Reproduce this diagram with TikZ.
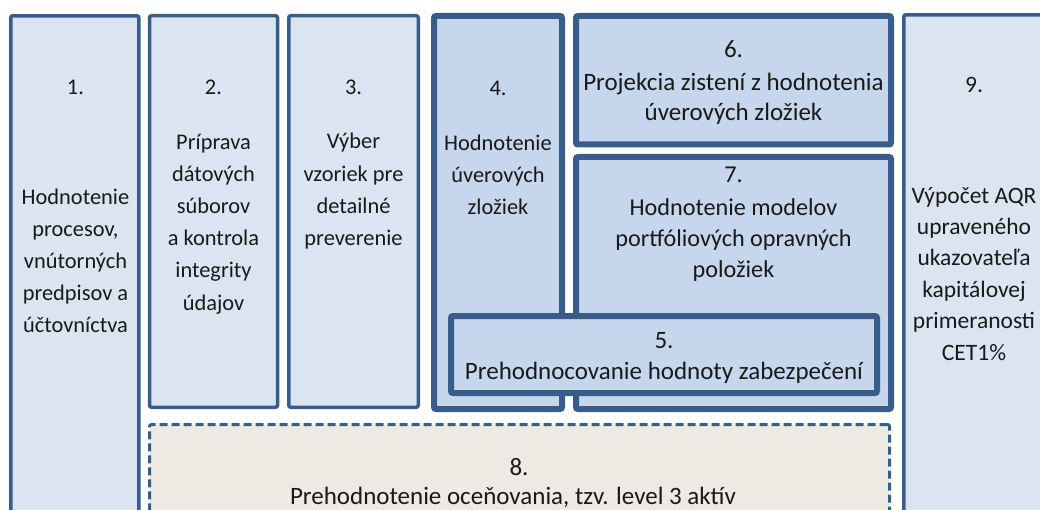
\documentclass[tikz,border=0pt]{standalone}
\usepackage{fontspec}
\setmainfont{Carlito}
\definecolor{bordc}{RGB}{56,93,138}
\definecolor{lightf}{RGB}{219,229,241}
\definecolor{midf}{RGB}{198,214,236}
\definecolor{beigef}{RGB}{237,234,227}
\definecolor{textc}{RGB}{25,25,25}
\tikzset{
  boxbase/.style={rectangle, rounded corners=2pt, inner sep=0pt, outer sep=0pt, draw=bordc},
  lightbox/.style={boxbase, fill=lightf, line width=3.5pt},
  thickbox/.style={boxbase, fill=midf, line width=6pt},
  dashbox/.style={boxbase, fill=beigef, line width=3pt, dash pattern=on 8pt off 4pt},
  txt/.style={text=textc, inner sep=0pt, align=center, anchor=base},
  fa/.style={txt, font=\fontsize{22.4}{32.2}\selectfont},
  fb/.style={txt, font=\fontsize{25}{31}\selectfont},
  fc/.style={txt, font=\fontsize{24.2}{31}\selectfont},
  fd/.style={txt, font=\fontsize{23.5}{31.4}\selectfont},
  fe/.style={txt, font=\fontsize{25}{30}\selectfont}
}
\begin{document}
\begin{tikzpicture}[x=1pt,y=-1pt]
\useasboundingbox (0,0) rectangle (1040,510);
\clip (0,0) rectangle (1040,510);
% boxes
\node[lightbox, minimum width=128pt, minimum height=504.25pt] (b1) at (74.75,267.9) {};
\node[lightbox, minimum width=128pt, minimum height=391.5pt] (b2) at (213.5,211.5) {};
\node[lightbox, minimum width=129.5pt, minimum height=391.5pt] (b3) at (353.5,211.5) {};
\node[thickbox, minimum width=128pt, minimum height=393pt] (b4) at (498,212.5) {};
\node[thickbox, minimum width=315pt, minimum height=128.5pt] (b6) at (733.5,80.25) {};
\node[thickbox, minimum width=315pt, minimum height=252pt] (b7) at (733.5,283) {};
\node[thickbox, minimum width=426pt, minimum height=77pt] (b5) at (664,354.5) {};
\node[dashbox, minimum width=740pt, minimum height=105.5pt] (b8) at (519.5,477.25) {};
\node[lightbox, minimum width=141.25pt, minimum height=515.25pt] (b9) at (974.4,272.4) {};
% texts (multi-line nodes: base = baseline of last line)
\node[fa] (n1) at (75.5,95) {1.};
\node[fa] (t1) at (75.5,332.8) {Hodnotenie\\procesov,\\vnútorných\\predpisov a\\účtovníctva};
\node[fa] (n2) at (213.5,95) {2.};
\node[fa] (t2) at (213.5,310) {Príprava\\dátových\\súborov\\a kontrola\\integrity\\údajov};
\node[fa] (n3) at (353.5,95) {3.};
\node[fa] (t3) at (353.5,245.6) {Výber\\vzoriek pre\\detailné\\preverenie};
\node[fa] (n4) at (498,96) {4.};
\node[fa] (t4) at (498,214.5) {Hodnotenie\\úverových\\zložiek};
\node[fe] (n6) at (733.5,58) {6.};
\node[fe] (t6) at (733.5,121) {Projekcia zistení z hodnotenia\\úverových zložiek};
\node[fc] (n7) at (733.5,183) {7.};
\node[fc] (t7) at (733.5,278) {Hodnotenie modelov\\portfóliových opravných\\položiek};
\node[fb] (n5) at (664,348) {5.};
\node[fb] (t5) at (664,379) {Prehodnocovanie hodnoty zabezpečení};
\node[fb] (n8) at (519,475) {8.};
\node[fb] (t8) at (513,504) {Prehodnotenie oceňovania, tzv. level 3 aktív};
\node[fd] (n9) at (974,93) {9.};
\node[fd] (t9) at (974,360) {Výpočet AQR\\upraveného\\ukazovateľa\\kapitálovej\\primeranosti\\CET1\%};
\end{tikzpicture}
\end{document}
